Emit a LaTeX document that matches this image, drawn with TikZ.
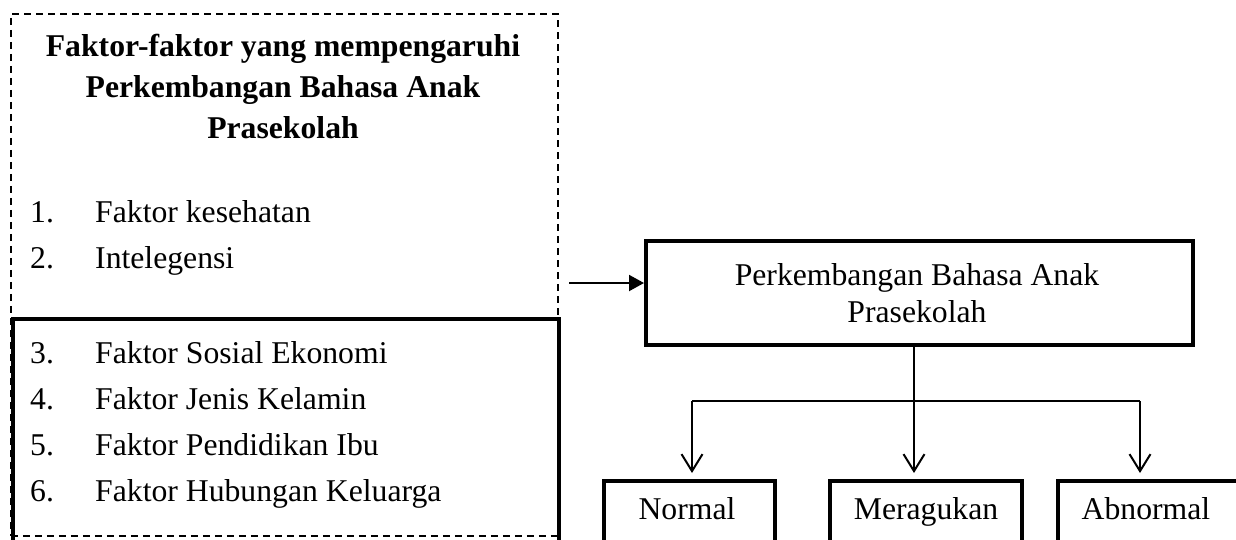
\documentclass[tikz,border=0pt]{standalone}
\usepackage{fontspec}
\setmainfont{Liberation Serif}
\usetikzlibrary{arrows.meta}
\begin{document}
\begin{tikzpicture}[x=1pt,y=-1pt,
  txt/.style={font=\fontsize{31.7}{38}\selectfont, inner sep=0pt, anchor=base west},
  ctxt/.style={font=\fontsize{31.7}{38}\selectfont, inner sep=0pt, anchor=base},
  ttl/.style={font=\bfseries\fontsize{31.7}{38}\selectfont, inner sep=0pt, anchor=base},
  solidbox/.style={draw, line width=3.5pt, inner sep=0pt, anchor=north west},
  dashbox/.style={draw, line width=1.5pt, dash pattern=on 7pt off 5pt, inner sep=0pt, anchor=north west},
  thinline/.style={line width=1.3pt},
  arrline/.style={line width=2pt},
  downarrow/.style={arrline, -{Straight Barb[length=17pt,width=21pt]}, shorten >=6pt},
]
\useasboundingbox (0,0) rectangle (1236,539);
\clip (0,0) rectangle (1236,539);

% left frames
\node[dashbox, minimum width=547pt, minimum height=522pt] (fbox) at (10,13) {};
\node[solidbox, minimum width=546pt, minimum height=240pt] (sbox) at (11,317) {};

% title
\node[ttl] (t1) at (283,56) {Faktor-faktor yang mempengaruhi};
\node[ttl] (t2) at (283,97) {Perkembangan Bahasa Anak};
\node[ttl] (t3) at (283,138) {Prasekolah};

% list
\node[txt] (n1) at (30,222) {1.};
\node[txt] (l1) at (95,222) {Faktor kesehatan};
\node[txt] (n2) at (30,268) {2.};
\node[txt] (l2) at (95,268) {Intelegensi};
\node[txt] (n3) at (30,363) {3.};
\node[txt] (l3) at (95,363) {Faktor Sosial Ekonomi};
\node[txt] (n4) at (30,409) {4.};
\node[txt] (l4) at (95,409) {Faktor Jenis Kelamin};
\node[txt] (n5) at (30,455) {5.};
\node[txt] (l5) at (95,455) {Faktor Pendidikan Ibu};
\node[txt] (n6) at (30,501) {6.};
\node[txt] (l6) at (95,501) {Faktor Hubungan Keluarga};

% main box
\node[solidbox, minimum width=547pt, minimum height=104pt] (main) at (644,239) {};
\node[ctxt] (m1) at (917,285) {Perkembangan Bahasa Anak};
\node[ctxt] (m2) at (917,322) {Prasekolah};

% bottom boxes
\node[solidbox, minimum width=171pt, minimum height=90pt] (nbox) at (602,479) {};
\node[solidbox, minimum width=192pt, minimum height=90pt] (mbox) at (828,479) {};
\node[solidbox, minimum width=200pt, minimum height=90pt] (abox) at (1056,479) {};
\node[ctxt] (nt) at (687,519) {Normal};
\node[ctxt] (mt) at (926,519) {Meragukan};
\node[ctxt] (at) at (1146,519) {Abnormal};

% connectors
\coordinate (src) at (569,283);
\draw[arrline, -{Triangle[length=15pt,width=16pt]}] (src) -- (src -| main.west);

\coordinate (jm) at (914,401);
\coordinate (jl) at (692,401);
\coordinate (jr) at (1140,401);
\draw[thinline] (jm |- main.south) -- (jm);
\draw[thinline] (jl) -- (jr);
\draw[downarrow] (jl) -- (jl |- nbox.north);
\draw[downarrow] (jm) -- (jm |- mbox.north);
\draw[downarrow] (jr) -- (jr |- abox.north);
\end{tikzpicture}
\end{document}
